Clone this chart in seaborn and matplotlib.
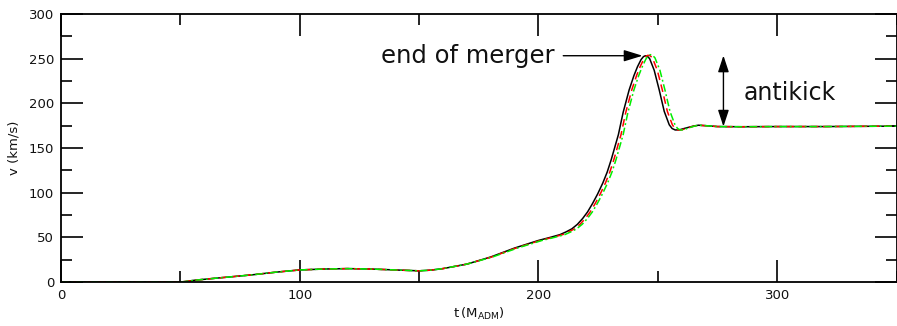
import matplotlib
matplotlib.use("Agg")
import matplotlib.pyplot as plt
from matplotlib.ticker import MultipleLocator
import seaborn as sns

# Recoil velocity vs. time for three resolutions
black_t = [0, 50, 52, 56, 60, 65, 70, 80, 90, 100, 110, 120, 130, 140, 150, 155, 160, 170,
           180, 190, 200, 205, 209, 211.5, 214, 216.3, 218.5, 220.6, 222.7, 224.8, 227, 228.8,
           230.5, 233.5, 235.5, 238, 240, 241.5, 243, 244, 244.8, 245.6, 246.6, 248.5, 250.6,
           252.7, 254.8, 256, 257.3, 259, 261, 263, 265, 267, 270, 275, 285, 300, 320, 350]
black_v = [0, 0, 0.5, 2, 3, 4.3, 5.5, 8, 11, 13.5, 14.5, 15, 14.5, 13.5, 12.5, 13.3, 15, 20,
           28, 38, 46.5, 50, 53, 56, 59.5, 64.5, 71, 78.5, 88, 98.5, 111, 123,
           137, 165, 190, 215, 231, 241, 249, 252.3, 253.3, 252.8, 250, 237, 215,
           191, 176, 171.8, 170.2, 170.3, 171.8, 173.2, 174.6, 175.5, 175, 174, 173.8, 174,
           174, 174.5]

red_t = [0, 50, 52, 56, 60, 65, 70, 80, 90, 100, 110, 120, 130, 140, 150, 155, 160, 170,
         180.4, 190.6, 200.8, 206, 210.1, 212.6, 215.1, 217.4, 219.6, 221.7, 223.8, 225.9,
         228.1, 229.9, 231.6, 234.6, 236.6, 239.1, 241.1, 242.6, 244.1, 245.1, 245.9, 246.8,
         247.8, 249.8, 251.9, 254.0, 256.1, 257.2, 258.4, 260, 261.8, 263.5, 265.3, 267, 270,
         275, 285, 300, 320, 350]
red_v = [0, 0, 0.5, 2, 3, 4.3, 5.5, 8, 11, 13.5, 14.5, 15, 14.5, 13.5, 12.5, 13.3, 15, 20,
         28, 38, 46.5, 50, 53, 56, 59.5, 64.5, 71, 78.5, 88, 98.5, 111, 123,
         137, 165, 190, 215, 231, 241, 249.3, 252.8, 253.8, 253.3, 250.5, 237, 215,
         191, 176, 171.8, 170.2, 170.3, 171.8, 173.2, 174.6, 175.5, 175, 174, 173.8, 174,
         174, 174.5]

green_t = [0, 50, 52, 56, 60, 65, 70, 80, 90, 100, 110, 120, 130, 140, 150, 155, 160, 170,
           180.8, 191.2, 201.5, 206.8, 211, 213.5, 216, 218.3, 220.5, 222.6, 224.7, 226.8,
           229, 230.8, 232.5, 235.5, 237.5, 240, 242, 243.5, 245, 246, 246.8, 247.7, 248.8,
           250.9, 253, 255.1, 257.2, 258.3, 259.4, 260.9, 262.2, 263.8, 265.5, 267.2, 270,
           275, 285, 300, 320, 350]
green_v = [0, 0, 0.5, 2, 3, 4.3, 5.5, 8, 11, 13.5, 14.5, 15, 14.5, 13.5, 12.5, 13.3, 15, 20,
           28, 38, 46.5, 50, 53, 56, 59.5, 64.5, 71, 78.5, 88, 98.5, 111, 123,
           137, 165, 190, 215, 231, 241, 249.5, 253.3, 254.5, 254, 251, 237, 215,
           191, 176, 171.8, 170.2, 170.3, 171.8, 173.2, 174.6, 175.5, 175, 174, 173.8, 174,
           174, 174.5]

x_ticks = [0, 100, 200, 300]
y_ticks = [0, 50, 100, 150, 200, 250, 300]

sns.set_style("ticks")
plt.rcParams["font.family"] = ["DejaVu Sans"]
plt.rcParams["text.color"] = "black"

fig = plt.figure(figsize=(8.97, 3.26), dpi=100)
ax = fig.add_axes([61 / 897, 44 / 326, 835.5 / 897, 268 / 326])

lw = 1.1
sns.lineplot(x=black_t, y=black_v, ax=ax, color="black", lw=lw, estimator=None)
sns.lineplot(x=red_t, y=red_v, ax=ax, color="#ff0000", lw=lw, estimator=None)
sns.lineplot(x=green_t, y=green_v, ax=ax, color="#00ee00", lw=lw, estimator=None)
lines = ax.get_lines()
lines[1].set_dashes((5, 3))
lines[2].set_dashes((5, 1.8, 1.2, 1.8))

ax.set_xlim(0, 350)
ax.set_ylim(0, 300)
ax.set_xticks(x_ticks)
ax.set_yticks(y_ticks)
ax.xaxis.set_minor_locator(MultipleLocator(50))
ax.yaxis.set_minor_locator(MultipleLocator(25))
ax.tick_params(which="major", direction="in", length=16, width=1.2, top=True, right=True,
               labelsize=9.5, colors="black", labelcolor="#111111", pad=5)
ax.tick_params(which="minor", direction="in", length=8, width=1.2, top=True, right=True,
               colors="black")
for s in ax.spines.values():
    s.set_color("black")
    s.set_linewidth(1.3)

ax.set_xlabel(r"t$\,$(M$_{\mathrm{ADM}}$)", fontsize=9.5, labelpad=3, color="#111111")
ax.set_ylabel("v (km/s)", fontsize=9.5, labelpad=6, color="#111111")

ax.annotate("end of merger", xy=(244.2, 253.3), xytext=(206.7, 253.3),
            fontsize=17.5, ha="right", va="center", color="#111111",
            arrowprops=dict(arrowstyle="-|>,head_length=0.65,head_width=0.2",
                            color="black", lw=1.0, shrinkA=4, shrinkB=1))
ax.annotate("", xy=(277.5, 253.5), xytext=(277.5, 174),
            arrowprops=dict(arrowstyle="<|-|>,head_length=1.0,head_width=0.33",
                            color="black", lw=1.0, shrinkA=0, shrinkB=0))
ax.text(286, 212, "antikick", fontsize=17, ha="left", va="center", color="#111111")

fig.savefig("out.png", dpi=100)
